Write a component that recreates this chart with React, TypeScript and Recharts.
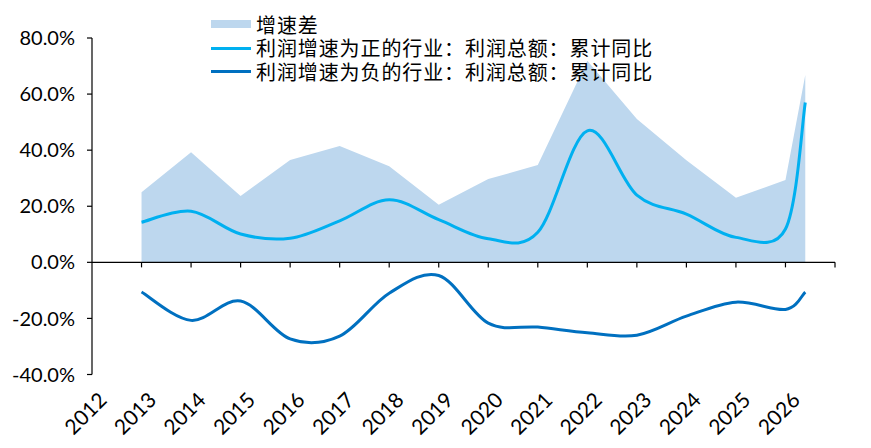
import React from 'react';
import { ComposedChart, Area, Line, XAxis, YAxis, ReferenceLine } from 'recharts';

// x positions: one point per year, the last one is a partial year
const years = [2013, 2014, 2015, 2016, 2017, 2018, 2019, 2020, 2021, 2022, 2023, 2024, 2025, 2026, 2026.4];
const spread = [25.0, 39.3, 23.7, 36.5, 41.5, 34.3, 20.5, 29.7, 34.7, 71.9, 51.1, 36.4, 23.0, 29.4, 66.8];
const positive = [14.3, 18.2, 10.1, 8.6, 14.8, 22.3, 15.2, 8.4, 10.7, 46.9, 24.0, 17.2, 8.9, 11.9, 57.0];
const negative = [-10.6, -20.7, -13.8, -27.3, -26.3, -11.0, -4.7, -21.7, -23.1, -25.1, -26.0, -19.2, -14.2, -16.8, -10.6];

const xTicks = [2012, 2013, 2014, 2015, 2016, 2017, 2018, 2019, 2020, 2021, 2022, 2023, 2024, 2025, 2026, 2027];
const xLabels = ['2012', '2013', '2014', '2015', '2016', '2017', '2018', '2019', '2020', '2021', '2022', '2023', '2024', '2025', '2026', ''];
const yTicks = [-40, -20, 0, 20, 40, 60, 80];

const seriesNames = ['增速差', '利润增速为正的行业：利润总额：累计同比', '利润增速为负的行业：利润总额：累计同比'];
const COLORS = ['#BDD7EE', '#00B0F0', '#0070C0'];

const data = years.map((x, i) => ({ x, spread: spread[i], pos: positive[i], neg: negative[i] }));

// excel-like smoothed line (catmull-rom through the points)
const smooth = (context: any) => {
  let pts: number[][] = [];
  return {
    areaStart() {},
    areaEnd() {},
    lineStart() {
      pts = [];
    },
    lineEnd() {
      const n = pts.length;
      if (!n) return;
      context.moveTo(pts[0][0], pts[0][1]);
      for (let i = 0; i < n - 1; i++) {
        const p0 = pts[Math.max(i - 1, 0)];
        const p1 = pts[i];
        const p2 = pts[i + 1];
        const p3 = pts[Math.min(i + 2, n - 1)];
        context.bezierCurveTo(
          p1[0] + (p2[0] - p0[0]) / 6,
          p1[1] + (p2[1] - p0[1]) / 6,
          p2[0] - (p3[0] - p1[0]) / 6,
          p2[1] - (p3[1] - p1[1]) / 6,
          p2[0],
          p2[1]
        );
      }
    },
    point(x: number, y: number) {
      pts.push([+x, +y]);
    },
  };
};

const FONT = 'Lato, "Noto Sans", sans-serif';

const XTick = (props: any) => {
  const { x, y, payload } = props;
  const label = xLabels[xTicks.indexOf(payload.value)];
  if (!label) return null;
  return (
    <g transform={`translate(${x + 16},${y + 27})rotate(-45)`}>
      <text textAnchor="end" fontSize={21} fontFamily={FONT} fill="#000">
        {label}
      </text>
    </g>
  );
};

const Legend = () => (
  <div
    style={{
      position: 'absolute',
      left: 211,
      top: 12.5,
      fontFamily: '"Noto Sans CJK SC", sans-serif',
      fontSize: 20,
      letterSpacing: 0.9,
      color: '#000',
    }}
  >
    {seriesNames.map((name, i) => (
      <div key={name} style={{ display: 'flex', alignItems: 'center', height: 23.7, whiteSpace: 'nowrap' }}>
        <div style={{ width: 40, height: i === 0 ? 8 : 3, background: COLORS[i], marginRight: 5 }} />
        <span style={{ display: 'block', height: 23.7, lineHeight: '23.7px', overflow: 'visible' }}>{name}</span>
      </div>
    ))}
  </div>
);

export default function App() {
  return (
    <div style={{ position: 'absolute', left: 0, top: 0, width: 871, height: 448, background: '#fff' }}>
      <ComposedChart width={871} height={448} data={data} margin={{ top: 38, right: 36, left: 0, bottom: 0 }}>
        <XAxis
          dataKey="x"
          type="number"
          domain={[2012, 2027]}
          ticks={xTicks}
          axisLine={false}
          tickLine={false}
          tickSize={0}
          tickMargin={0}
          height={73.5}
          interval={0}
          tick={<XTick />}
        />
        <YAxis
          domain={[-40, 80]}
          ticks={yTicks}
          width={92}
          interval={0}
          axisLine={{ stroke: '#000', strokeWidth: 1.2 }}
          tickLine={{ stroke: '#000', strokeWidth: 1.2 }}
          tickSize={5}
          tickMargin={12}
          tick={{ fill: '#000', fontSize: 20, fontFamily: FONT }}
          tickFormatter={(v: number) => `${v.toFixed(1)}%`}
        />
        <Area
          dataKey="spread"
          name={seriesNames[0]}
          type="linear"
          fill={COLORS[0]}
          fillOpacity={1}
          stroke="none"
          isAnimationActive={false}
        />
        <ReferenceLine y={0} stroke="#000" strokeWidth={1.3} />
        {xTicks.slice(1).map((t) => (
          <ReferenceLine
            key={t}
            segment={[
              { x: t, y: 0 },
              { x: t, y: -1.8 },
            ]}
            stroke="#000"
            strokeWidth={1.2}
          />
        ))}
        <Line
          dataKey="pos"
          name={seriesNames[1]}
          type={smooth as any}
          stroke={COLORS[1]}
          strokeWidth={3}
          dot={false}
          activeDot={false}
          isAnimationActive={false}
        />
        <Line
          dataKey="neg"
          name={seriesNames[2]}
          type={smooth as any}
          stroke={COLORS[2]}
          strokeWidth={3}
          dot={false}
          activeDot={false}
          isAnimationActive={false}
        />
      </ComposedChart>
      <Legend />
    </div>
  );
}
